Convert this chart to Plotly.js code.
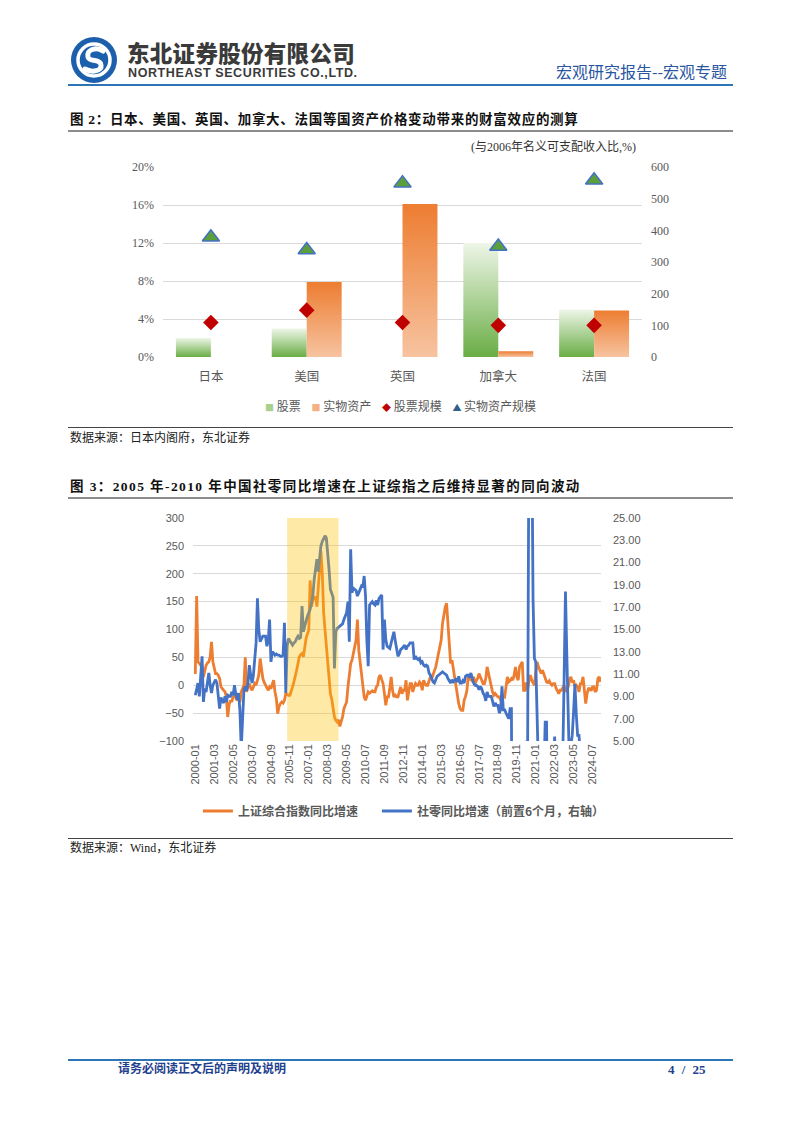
<!DOCTYPE html>
<html>
<head>
<meta charset="utf-8">
<script src="https://cdn.plot.ly/plotly-3.0.1.min.js"></script>
<style>
  html, body { margin:0; padding:0; background:#fff; }
  body { width:802px; height:1133px; position:relative; overflow:hidden;
         font-family:"Liberation Serif","Noto Sans CJK SC",serif; }
  .abs { position:absolute; white-space:nowrap; }
  .hline { position:absolute; left:68px; width:665px; }
  #c1 { position:absolute; left:0; top:140px; width:802px; height:290px; }
  #c2 { position:absolute; left:0; top:500px; width:802px; height:336px; }
</style>
</head>
<body>
<!-- header -->
<svg class="abs" style="left:66px;top:34px" width="56" height="52" viewBox="0 0 56 52">
  <circle cx="28" cy="26" r="23" fill="#1B5FAD"/>
  <circle cx="28" cy="26" r="16" fill="none" stroke="#fff" stroke-width="3.5"/>
  <path d="M37 17 C30 12 20 16 22 23 C24 29 34 24 35 31 C36 37 26 39 19 35" fill="none" stroke="#fff" stroke-width="5" stroke-linecap="round"/>
</svg>
<div class="abs" style="left:127px;top:38px;font-family:'Noto Sans CJK SC';font-weight:900;font-size:22.5px;color:#3a3a3a;letter-spacing:0.3px;line-height:28px">东北证券股份有限公司</div>
<div class="abs" style="left:128px;top:65px;font-family:'Liberation Sans';font-weight:bold;font-size:12.5px;color:#3a3a3a;letter-spacing:0.6px;line-height:16px">NORTHEAST SECURITIES CO.,LTD.</div>
<div class="abs" style="left:556px;top:61px;font-family:'Noto Sans CJK SC';font-size:16px;color:#2a55a0;line-height:21px">宏观研究报告--宏观专题</div>
<div class="hline" style="top:84px;height:1.5px;background:#2E75B6"></div>

<!-- figure 2 -->
<div class="abs" style="left:70px;top:111px;font-family:'Liberation Serif','Noto Sans CJK SC';font-weight:bold;font-size:13.5px;color:#111;letter-spacing:0.7px;line-height:18px">图 2：日本、美国、英国、加拿大、法国等国资产价格变动带来的财富效应的测算</div>
<div class="hline" style="top:130px;height:2px;background:#8c8c8c"></div>
<div class="abs" style="left:471px;top:139px;font-family:'Liberation Serif','Noto Sans CJK SC';font-size:12px;color:#333;line-height:16px">(与2006年名义可支配收入比,%)</div>
<div id="c1"></div>
<div class="hline" style="top:427px;height:1px;background:#444"></div>
<div class="abs" style="left:70px;top:430px;font-family:'Liberation Serif','Noto Sans CJK SC';font-size:12px;color:#222;line-height:17px">数据来源：日本内阁府，东北证券</div>

<!-- figure 3 -->
<div class="abs" style="left:70px;top:478px;font-family:'Liberation Serif','Noto Sans CJK SC';font-weight:bold;font-size:13.5px;color:#111;letter-spacing:1.4px;line-height:18px">图 3：2005 年-2010 年中国社零同比增速在上证综指之后维持显著的同向波动</div>
<div class="hline" style="top:497px;height:2px;background:#8c8c8c"></div>
<div id="c2"></div>
<div class="hline" style="top:838px;height:1px;background:#444"></div>
<div class="abs" style="left:70px;top:840px;font-family:'Liberation Serif','Noto Sans CJK SC';font-size:12px;color:#222;line-height:17px">数据来源：Wind，东北证券</div>

<!-- footer -->
<div class="hline" style="top:1059px;height:1.5px;background:#2E75B6"></div>
<div class="abs" style="left:118px;top:1062px;font-family:'Liberation Serif','Noto Sans CJK SC';font-weight:bold;font-size:12px;color:#1F3F8F;line-height:15px">请务必阅读正文后的声明及说明</div>
<div class="abs" style="left:668px;top:1062px;font-family:'Liberation Serif';font-weight:bold;font-size:13px;color:#1F3F8F;line-height:15px;word-spacing:4px">4 / 25</div>

<script>
// ---------- Figure 2 data ----------
const countries = ['日本', '美国', '英国', '加拿大', '法国'];
const stockShare = [0.02, 0.03, 0, 0.12, 0.05];          // 股票 (left axis)
const realAssetShare = [0, 0.079, 0.161, 0.006, 0.049];   // 实物资产 (left axis)
const stockScale = [109, 148, 109, 100, 100];             // 股票规模 (right axis)
const realAssetScale = [378, 338, 549, 349, 558];         // 实物资产规模 (right axis)

// ---------- Figure 3 data (monthly, starting 2000-01) ----------
const startYear = 2000;
const sseYoY = [
 20,160,42,39,36,33,15,27,36,40, 42,51,78,42,30,21,21,18,12,-3,
 -6,-9,-12,-21,-57,-35,-27,-30,-21,-18, -22,-27,-21,-30,-12,-5,0,50,-12,-3,
 3,-5,-9,-3,3,0,8,18,48,27, 12,5,0,-3,-9,-3,-6,2,9,-12,
 -24,-51,-38,-33,-30,-32,-27,-15,-17,-18, -18,-12,-3,6,15,27,39,51,55,57,
 51,69,84,92,99,188,141,153,156,159, 141,171,201,240,200,130,100,70,40,5,
 -15,-25,-40,-57,-63,-66,-62,-74,-65,-57, -42,-36,-30,-3,18,39,45,55,69,81,
 118,63,40,27,3,-21,-27,-20,-12,-14, -12,-10,-12,-12,-3,0,15,18,10,3,
 -15,-36,-21,-21,-5,15,-9,-21,-18,-21, -21,-12,-3,-15,-9,-9,9,-27,-10,3,
 3,-12,-3,3,0,0,6,3,-9,9, 3,0,0,9,15,12,20,24,33,45,
 57,70,81,111,129,140,147,111,63,39, 45,30,15,-3,-21,-33,-42,-45,-45,-27,
 -20,-10,15,9,18,6,15,3,8,12, 21,15,8,3,3,12,33,20,9,-3,
 -12,-18,-15,-18,-21,-21,-27,-18,-20,-21, -3,15,6,8,12,9,18,33,15,9,
 33,39,42,-9,-9,5,-9,9,18,9, 5,0,24,42,33,27,21,27,20,10,
 6,5,8,3,0,3,3,-5,-12,-15, -9,-9,-5,0,-12,-6,-3,10,15,5,
 9,-3,0,-3,-12,3,3,15,-10,-33, -15,-6,-6,-10,-3,-3,-12,-9,12,15,
 6
];
const retailYoYLead6 = [
 9.1,9.6,10.2,9.0,10.5,12.6,8.5,9.7,9.4,10.2, 11.1,10.0,9.3,10.0,10.3,10.5,10.2,9.1,7.9,8.9,
 8.6,8.4,9.0,8.5,9.1,9.0,9.0,9.4,9.1,10.0, 9.2,8.7,9.3,7.8,4.3,7.8,9.6,9.9,9.5,10.2,
 11.8,10.9,10.2,10.9,12.6,13.8,17.8,15.0,13.9,14.1, 14.4,14.4,14.4,13.5,14.0,15.9,12.1,13.0,12.9,12.7,
 12.8,12.7,12.7,12.6,12.6,12.7,15.6,9.3,13.5,14.2, 14.0,13.9,13.6,13.8,13.9,14.2,14.4,14.2,14.3,17.1,
 14.8,15.3,15.9,16.2,16.5,16.8,17.4,18.0,19.5,20.5, 21.3,20.2,21.6,22.5,22.9,23.2,23.4,23.2,22.0,20.4,
 18.6,18.2,17.9,11.5,14.8,15.1,15.2,15.3,15.4,15.5, 15.9,16.2,16.5,17.5,13.9,22.2,18.3,18.7,18.6,18.5,
 18.0,18.4,18.6,18.9,18.8,19.8,18.0,14.0,11.7,17.2, 17.4,17.5,17.3,17.2,17.6,17.2,17.8,18.0,18.1,13.2,
 15.9,14.1,13.5,13.4,13.3,13.8,14.2,14.8,14.0,13.1, 12.6,12.8,13.2,13.3,13.5,13.6,13.2,13.5,13.6,13.8,
 13.8,13.8,12.3,12.6,12.4,12.3,12.4,12.0,12.1,11.8, 11.7,11.8,11.7,11.1,10.9,10.5,10.3,10.2,10.5,10.8,
 10.9,11.0,11.1,11.2,11.1,11.0,10.9,10.6,10.4,10.2, 10.5,10.3,10.4,10.6,10.3,10.8,10.2,10.2,10.4,10.2,
 10.8,10.9,10.9,10.7,11.1,10.5,10.2,10.0,10.0,9.9, 9.6,9.9,9.7,9.3,9.1,8.6,9.4,9.0,9.0,9.0,
 8.6,8.1,8.4,8.2,8.2,7.5,7.8,9.9,7.8,7.8, 7.5,7.3,7.0,7.9,7.9,-20.5,-20.5,-15.8,-7.5,-2.8,
 -1.8,-1.1,0.5,3.3,4.3,5.0,4.6,33.8,33.8,34.2, 17.7,12.4,12.1,8.5,2.5,4.4,4.9,3.9,1.7,6.7,
 6.7,-3.5,-11.1,-6.7,3.1,2.7,5.4,2.5,-0.5,-5.9, -1.8,3.5,3.5,10.6,18.4,12.7,3.1,2.5,4.6,5.5,
 7.6,10.1,7.4,5.5,5.5,3.1,2.3,3.7,2.0,2.7, 2.1,3.2,4.8,3.0,3.7
];
const tickLabels = ['2000-01','2001-03','2002-05','2003-07','2004-09','2005-11','2007-01','2008-03',
  '2009-05','2010-07','2011-09','2012-11','2014-01','2015-03','2016-05','2017-07','2018-09',
  '2019-11','2021-01','2022-03','2023-05','2024-07'];
const highlightStart = '2005-09';
const highlightEnd = '2008-11';

const months = sseYoY.map((_, i) => {
  const y = startYear + Math.floor(i / 12);
  const m = (i % 12) + 1;
  return y + '-' + (m < 10 ? '0' + m : m);
});

const gray = '#595959';
const serif = 'Liberation Serif, Noto Sans CJK SC, serif';
const sans = 'Noto Sans CJK SC, Liberation Sans, sans-serif';

// ---------- Chart 1 ----------
const c1data = [
  { type:'bar', name:'股票', x:countries, y:stockShare, marker:{color:'#A9D18E'}, yaxis:'y', showlegend:false },
  { type:'bar', name:'实物资产', x:countries, y:realAssetShare, marker:{color:'#F4B183'}, yaxis:'y', showlegend:false },
  { type:'scatter', mode:'markers', name:'股票规模', x:countries, y:stockScale, yaxis:'y2',
    marker:{symbol:'diamond', size:12, color:'#C00000', line:{width:0}}, showlegend:false },
  { type:'scatter', mode:'markers', name:'实物资产规模', x:countries, y:realAssetScale, yaxis:'y2',
    marker:{symbol:'triangle-up', size:15, color:'#5B9E3A', line:{width:1.5, color:'#4472C4'}}, showlegend:false }
];
const legendText =
  '<span style="color:#A9D18E;font-size:9px">■</span> 股票    ' +
  '<span style="color:#F4B183;font-size:9px">■</span> 实物资产    ' +
  '<span style="color:#C00000;font-size:9px">◆</span> 股票规模    ' +
  '<span style="color:#2F5F8A;font-size:9px">▲</span> 实物资产规模';
const c1layout = {
  width:802, height:290,
  margin:{l:163, r:160, t:27, b:73},
  paper_bgcolor:'rgba(0,0,0,0)', plot_bgcolor:'#fff',
  barmode:'group', bargap:0.27, bargroupgap:0,
  showlegend:false,
  xaxis:{ tickfont:{family:sans, size:12.5, color:gray}, showgrid:false, showline:false, ticks:'',
          ticklabelstandoff:10 },
  yaxis:{ range:[0,0.2], dtick:0.04, tickformat:'.0%', gridcolor:'#D9D9D9', gridwidth:1,
          zeroline:false, showline:false, ticks:'', tickfont:{family:serif, size:12, color:gray},
          ticklabelstandoff:8 },
  yaxis2:{ range:[0,600], dtick:100, overlaying:'y', side:'right', showgrid:false, zeroline:false,
           showline:false, ticks:'', tickfont:{family:serif, size:12, color:gray}, ticklabelstandoff:8 },
  annotations:[{ xref:'paper', yref:'paper', x:0.495, y:-0.255, xanchor:'center', yanchor:'middle',
    showarrow:false, text:legendText, font:{family:sans, size:12, color:gray} }]
};

function addGradient(svg, id, top, bottom) {
  const ns = 'http://www.w3.org/2000/svg';
  let defs = svg.querySelector('defs');
  if (!defs) { defs = document.createElementNS(ns, 'defs'); svg.insertBefore(defs, svg.firstChild); }
  const g = document.createElementNS(ns, 'linearGradient');
  g.setAttribute('id', id); g.setAttribute('x1','0'); g.setAttribute('y1','0');
  g.setAttribute('x2','0'); g.setAttribute('y2','1');
  [[0, top], [1, bottom]].forEach(([o, c]) => {
    const s = document.createElementNS(ns, 'stop');
    s.setAttribute('offset', o); s.setAttribute('stop-color', c);
    g.appendChild(s);
  });
  defs.appendChild(g);
}

Plotly.newPlot('c1', c1data, c1layout, {displayModeBar:false, staticPlot:true}).then(gd => {
  const svg = gd.querySelector('.main-svg');
  addGradient(svg, 'gradGreen', '#EEF6E8', '#6AAD45');
  addGradient(svg, 'gradOrange', '#ED7D31', '#F7C3A0');
  const traces = gd.querySelectorAll('.barlayer .trace');
  traces.forEach((tr, i) => {
    tr.querySelectorAll('path').forEach(p => {
      p.style.fill = 'url(#' + (i === 0 ? 'gradGreen' : 'gradOrange') + ')';
    });
  });
});

// ---------- Chart 2 ----------
const c2data = [
  { type:'scatter', mode:'lines', name:'上证综合指数同比增速', x:months, y:sseYoY,
    line:{color:'#ED7D31', width:2.8}, yaxis:'y', legendwidth:134 },
  { type:'scatter', mode:'lines', name:'社零同比增速（前置6个月，右轴）',
    x:months.slice(0, retailYoYLead6.length), y:retailYoYLead6,
    line:{color:'#4472C4', width:2.8}, yaxis:'y2' }
];
const c2layout = {
  width:802, height:336,
  margin:{l:193, r:201, t:18, b:94},
  paper_bgcolor:'rgba(0,0,0,0)', plot_bgcolor:'#fff',
  showlegend:true,
  legend:{ orientation:'h', x:0.012, xanchor:'left', y:-0.308, yanchor:'middle',
           font:{family:sans, size:12, color:gray, weight:'bold'}, itemwidth:30,
           bgcolor:'rgba(0,0,0,0)' },
  xaxis:{ type:'category', categoryorder:'array', categoryarray:months,
          range:[-1.7, 300.3], tickmode:'array', tickvals:tickLabels, ticktext:tickLabels,
          tickangle:-90, tickfont:{family:'Liberation Sans, sans-serif', size:11, color:gray},
          showgrid:false, showline:false, zeroline:false, ticks:'' },
  yaxis:{ range:[-100,300], dtick:50, gridcolor:'#D9D9D9', gridwidth:1, zeroline:false,
          showline:false, ticks:'', tickfont:{family:'Liberation Sans, sans-serif', size:11, color:gray},
          ticklabelstandoff:8 },
  yaxis2:{ range:[5,25], tickmode:'array', tickvals:[5,7,9,11,13,15,17,19,21,23,25], tickformat:'.2f',
           overlaying:'y', side:'right', showgrid:false, zeroline:false, showline:false, ticks:'',
           tickfont:{family:'Liberation Sans, sans-serif', size:11, color:gray}, ticklabelstandoff:11 },
  shapes:[{ type:'rect', xref:'x', yref:'paper', x0:highlightStart, x1:highlightEnd, y0:0, y1:1,
            fillcolor:'#FFC000', opacity:0.35, line:{width:0}, layer:'above' }]
};
Plotly.newPlot('c2', c2data, c2layout, {displayModeBar:false, staticPlot:true});
</script>
</body>
</html>
